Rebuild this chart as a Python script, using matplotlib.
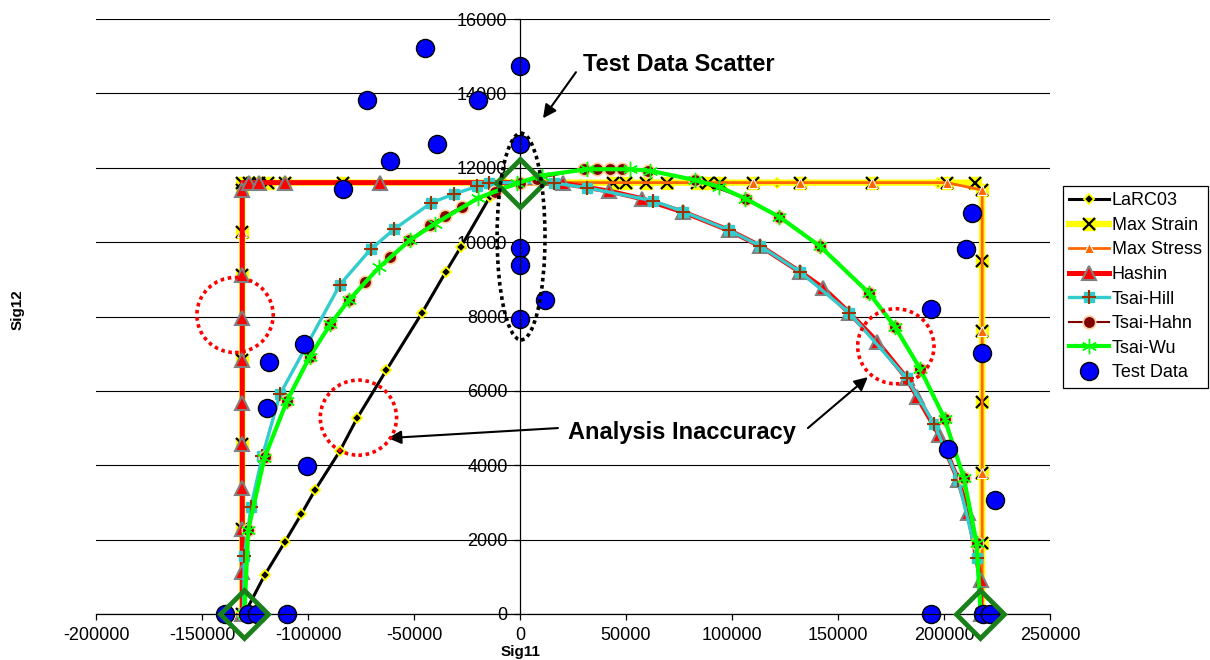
import matplotlib.pyplot as plt
from matplotlib.patches import Ellipse

plt.rcParams['font.family'] = ['Liberation Sans', 'DejaVu Sans']
plt.rcParams['axes.unicode_minus'] = False

# -----------------------------------------------------------
# Failure envelopes, Sig11 vs Sig12
# -----------------------------------------------------------

larc_x = [-130000, -120500, -111000, -103200, -96700, -85000, -76800, -63000,
          -46300, -35000, -27800, -14200, -7000, 47000, 121000, 197000]
larc_y = [0, 1040, 1930, 2680, 3330, 4380, 5270, 6560,
          8090, 9200, 9880, 11220, 11600, 11600, 11600, 11600]

strain_x = [-131000] * 7 + [-131000, -127700, -123000, -118700, -110800, -83300,
                            44000, 50000, 59400, 69200, 83300, 88800, 94300,
                            110000, 132100, 165900, 201300, 214600] + [218000] * 7
strain_y = [0, 2280, 4560, 6840, 9120, 10280, 11400] + [11600] * 18 + \
           [11400, 9500, 7600, 5700, 3800, 1900, 0]

stress_x = [-131000] * 7 + [-127700, -123000, -110800, -66000,
                            110000, 132100, 165900, 201300] + [218000] * 4
stress_y = [0, 2280, 4560, 6840, 9120, 10280, 11400] + [11600] * 8 + \
           [11400, 7600, 3800, 0]

hashin_x = [-131000] * 10 + [-131000, -127700, -123000, -110800, -66000, 0,
                             20100, 42100, 57400, 77000, 98500, 113200, 132100,
                             143100, 155300, 168500, 182400, 187400, 197800,
                             206700, 211500, 217300, 217300]
hashin_y = [0, 1120, 2280, 3400, 4570, 5680, 6830, 7950, 9110, 11400] + \
           [11600, 11600, 11600, 11600, 11600, 11600,
            11580, 11370, 11170, 10810, 10320, 9900, 9200,
            8760, 8100, 7320, 6340, 5840, 4810,
            3600, 2720, 910, 0]
hashin_marks = [i for i in range(len(hashin_x)) if i not in (10, 15)]

hill_x = [-130500, -130000, -126900, -121500, -113200, -84900, -70400, -59300,
          -41800, -31300, -20200, -14400, 15900, 31700, 62900, 77000, 98500,
          113200, 132100, 155300, 182400, 195400, 206700, 215700, 217300]
hill_y = [0, 1560, 2890, 4250, 5910, 8860, 9810, 10350,
          11060, 11290, 11500, 11600, 11590, 11460, 11110, 10820, 10320,
          9900, 9200, 8100, 6340, 5110, 3600, 1500, 0]

hahn_x = [-130000, -128200, -120300, -110000, -99000, -89500, -80700, -73300,
          -61300, -52200, -42500, -35500, -27300, -12000, 0, 7900, 30000,
          36300, 42300, 48300, 60500, 82500, 106600, 122300, 141500, 164800,
          176900, 188700, 200300, 209400, 215400, 217300]
hahn_y = [0, 2260, 4230, 5730, 6920, 7790, 8440, 8920,
          9600, 10050, 10460, 10710, 10950, 11360, 11600, 11710, 11960,
          11970, 11970, 11970, 11920, 11670, 11170, 10680, 9890, 8620,
          7720, 6600, 5250, 3650, 1900, 0]

wu_x = [-130000, -128200, -120600, -109900, -99200, -89500, -80700, -66500,
        -52000, -40000, -19600, -1500, 10200, 31400, 51900, 61300, 82500,
        93900, 106300, 122300, 141500, 164800, 176900, 188700, 200300,
        209400, 215400, 217300]
wu_y = [0, 2260, 4190, 5730, 6920, 7790, 8440, 9320,
        10050, 10500, 11190, 11580, 11790, 11960, 11960, 11920, 11670,
        11490, 11170, 10680, 9890, 8620, 7720, 6600, 5250,
        3650, 1900, 0]

test_x = [-44800, -72200, -19800, -39200, -61300, -83300, 0, 0, 0, 0, 0, 11800,
          -101700, -118300, -119500, -100300, -139200, -128200, -124200, -110000,
          213000, 210300, 193700, 217800, 202000, 224000, 193900, 218500, 221700]
test_y = [15210, 13820, 13820, 12630, 12180, 11440, 14730, 12630, 9830, 9380,
          7930, 8440, 7260, 6780, 5530, 3990, 0, 0, 0, 0,
          10770, 9820, 8190, 7030, 4450, 3060, 0, 0, 0]

# corner points picked out with big diamonds
corner_x = [-130000, 0, 217000]
corner_y = [0, 11600, 0]

# -----------------------------------------------------------

fig = plt.figure(figsize=(12.1, 6.6), dpi=100)
ax = fig.add_axes([96 / 1210, 46 / 660, 954 / 1210, 595 / 660])


def setup_axes(axis):
    """
    Excel-like axes: y axis crossing at Sig11 = 0, horizontal gridlines only.
    """
    axis.set_xlim(-200000, 250000)
    axis.set_ylim(0, 16000)
    axis.set_xticks(range(-200000, 250001, 50000))
    axis.set_yticks(range(0, 16001, 2000))

    axis.spines['top'].set_visible(False)
    axis.spines['right'].set_visible(False)
    axis.spines['left'].set_position(('data', 0))
    for side in ('left', 'bottom'):
        axis.spines[side].set_linewidth(0.9)

    axis.yaxis.grid(True, color='black', lw=0.8)
    axis.set_axisbelow(True)
    axis.tick_params(direction='out', length=4, width=0.9, labelsize=13, pad=5)


def draw_series(axis):
    """
    Plots all the criteria and the test points. Returns legend handles.
    """
    common = dict(clip_on=False)

    larc, = axis.plot(larc_x, larc_y, color='black', lw=2.2, marker='D', ms=5.5,
                      mfc='black', mec='#ffff00', mew=1.3, **common)

    strain_line, = axis.plot(strain_x, strain_y, color='#ffff00', lw=4.5, marker='s',
                             ms=9, mfc='#ffff00', mec='#ffff00', **common)
    strain_mark, = axis.plot(strain_x, strain_y, ls='none', marker='x', ms=9,
                             mec='black', mew=1.6, **common)

    stress, = axis.plot(stress_x, stress_y, color='#ff6600', lw=2, marker='^', ms=7,
                        mfc='#ff6600', mec='white', mew=0.8, **common)

    hashin, = axis.plot(hashin_x, hashin_y, color='#ff0000', lw=3.6, marker='^', ms=10,
                        mfc='#ff0000', mec='#808080', mew=1.5,
                        markevery=hashin_marks, **common)

    hill_line, = axis.plot(hill_x, hill_y, color='#33cccc', lw=2.4, marker='s', ms=7,
                           mfc='#33cccc', mec='#33cccc', **common)
    hill_mark, = axis.plot(hill_x, hill_y, ls='none', marker='+', ms=10,
                           mec='#993300', mew=1.5, **common)

    hahn, = axis.plot(hahn_x, hahn_y, color='#800000', lw=1.5, marker='o', ms=9,
                      mfc='#800000', mec='#ffcc99', mew=1.2, **common)

    wu, = axis.plot(wu_x, wu_y, color='#00ff00', lw=3, marker=(6, 2, 0), ms=11,
                    mec='#00ff00', mew=1, **common)

    test, = axis.plot(test_x, test_y, ls='none', marker='o', ms=13,
                      mfc='#0000ff', mec='black', mew=1, **common)

    axis.plot(corner_x, corner_y, ls='none', marker='D', ms=24, mfc='none',
              mec='#1a801a', mew=3.5, zorder=5, **common)

    handles = [larc, (strain_line, strain_mark), stress, hashin,
               (hill_line, hill_mark), hahn, wu, test]
    labels = ['LaRC03', 'Max Strain', 'Max Stress', 'Hashin',
              'Tsai-Hill', 'Tsai-Hahn', 'Tsai-Wu', 'Test Data']
    return handles, labels


def annotations(axis):
    """
    Dotted rings, callout texts and arrows.
    """
    dots = (0, (1, 1))
    for cx, cy in [(-134400, 8040), (-76200, 5280), (177300, 7200)]:
        axis.add_patch(Ellipse((cx, cy), 36000, 2020, fill=False, edgecolor='red',
                               lw=2.6, linestyle=dots, zorder=6))
    axis.add_patch(Ellipse((500, 10150), 22600, 5560, fill=False, edgecolor='black',
                           lw=2.6, linestyle=dots, zorder=6))

    axis.text(29700, 14780, 'Test Data Scatter', fontsize=17, fontweight='bold',
              ha='left', va='center')
    axis.text(22600, 4890, 'Analysis Inaccuracy', fontsize=17, fontweight='bold',
              ha='left', va='center')

    arrow = dict(arrowstyle='-|>', color='black', lw=1.5, mutation_scale=20,
                 shrinkA=0, shrinkB=0)
    axis.annotate('', xy=(10850, 13330), xytext=(26400, 14570), arrowprops=arrow)
    axis.annotate('', xy=(-62300, 4730), xytext=(17900, 5000), arrowprops=arrow)
    axis.annotate('', xy=(164100, 6370), xytext=(135800, 5000), arrowprops=arrow)


def plot():
    setup_axes(ax)
    handles, labels = draw_series(ax)
    annotations(ax)

    fig.text(521 / 1210, 1 - 652 / 660, 'Sig11', fontsize=11, fontweight='bold',
             ha='center', va='center')
    fig.text(18 / 1210, 1 - 310 / 660, 'Sig12', fontsize=11, fontweight='bold',
             ha='center', va='center', rotation=90)

    leg = fig.legend(handles, labels, loc='upper left',
                     bbox_to_anchor=(1063 / 1210, 1 - 186 / 660),
                     bbox_transform=fig.transFigure, fontsize=13, fancybox=False,
                     edgecolor='black', framealpha=1, borderpad=0.35,
                     handlelength=2.2, handletextpad=0.15, labelspacing=0.42,
                     borderaxespad=0)
    leg.get_frame().set_linewidth(0.9)

    fig.savefig('out.png', dpi=100)


if __name__ == "__main__":
    plot()
